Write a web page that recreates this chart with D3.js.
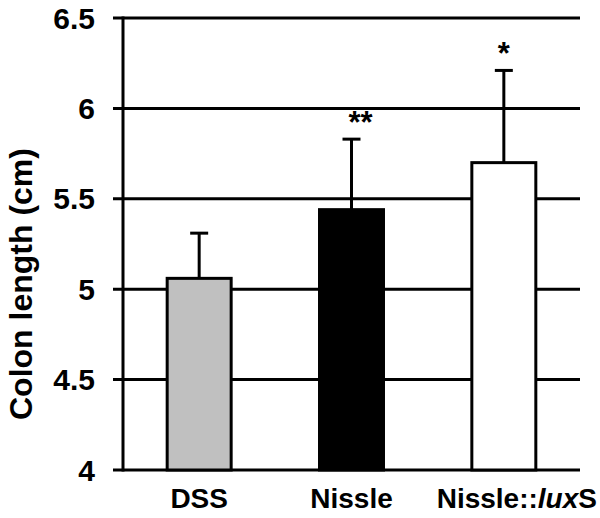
<!DOCTYPE html>
<html>
<head>
<script src="https://d3js.org/d3.v7.min.js"></script>
<style>
    body { margin: 0; background: #fff; }
    text { font-family: Arial, "Liberation Sans", sans-serif; font-weight: bold; fill: #000; }
</style>
</head>
<body>
<script>
    // values
    var groups = ["DSS", "Nissle", "Nissle::luxS"];
    var means = [5.06, 5.44, 5.70];
    var errors = [0.25, 0.39, 0.51];
    var stars = ["", "**", "*"];
    var fills = ["#c0c0c0", "#000000", "#ffffff"];
    var yTicks = [4, 4.5, 5, 5.5, 6, 6.5];

    var width = 600, height = 518;
    var plotLeft = 123, plotRight = 580, plotTop = 18, plotBottom = 470;

    var svg = d3.select("body").append("svg")
        .attr("width", width)
        .attr("height", height);

    var x = d3.scaleBand().domain(groups).range([plotLeft, plotRight]).paddingInner(0.58).paddingOuter(0.29);
    var y = d3.scaleLinear().domain([4, 6.5]).range([plotBottom, plotTop]);

    // gridlines + ticks
    svg.append("g").selectAll("line")
        .data(yTicks)
        .enter().append("line")
        .attr("x1", plotLeft - 10).attr("x2", plotRight)
        .attr("y1", function(d) { return y(d); })
        .attr("y2", function(d) { return y(d); })
        .attr("stroke", "#000").attr("stroke-width", 3);

    svg.append("line")
        .attr("x1", plotLeft).attr("x2", plotLeft)
        .attr("y1", y(6.5) - 1.5).attr("y2", y(4) + 1.5)
        .attr("stroke", "#000").attr("stroke-width", 3);

    svg.append("g").selectAll("text")
        .data(yTicks)
        .enter().append("text")
        .attr("x", 95)
        .attr("y", function(d) { return y(d); })
        .attr("dy", "0.35em")
        .attr("text-anchor", "end")
        .style("font-size", "30px")
        .text(function(d) { return d; });

    var data = groups.map(function(g, i) {
        return {name: g, mean: means[i], err: errors[i], star: stars[i], fill: fills[i]};
    });

    // error bars (drawn before bars so the bar outline covers the base)
    var eb = svg.append("g").selectAll("g").data(data).enter().append("g");
    eb.append("line")
        .attr("x1", function(d) { return x(d.name) + x.bandwidth() / 2; })
        .attr("x2", function(d) { return x(d.name) + x.bandwidth() / 2; })
        .attr("y1", function(d) { return y(d.mean); })
        .attr("y2", function(d) { return y(d.mean + d.err); })
        .attr("stroke", "#000").attr("stroke-width", 3);
    eb.append("line")
        .attr("x1", function(d) { return x(d.name) + x.bandwidth() / 2 - 9; })
        .attr("x2", function(d) { return x(d.name) + x.bandwidth() / 2 + 9; })
        .attr("y1", function(d) { return y(d.mean + d.err); })
        .attr("y2", function(d) { return y(d.mean + d.err); })
        .attr("stroke", "#000").attr("stroke-width", 3);

    svg.append("g").selectAll("rect")
        .data(data)
        .enter().append("rect")
        .attr("x", function(d) { return x(d.name); })
        .attr("y", function(d) { return y(d.mean); })
        .attr("width", x.bandwidth())
        .attr("height", function(d) { return y(4) - y(d.mean); })
        .attr("fill", function(d) { return d.fill; })
        .attr("stroke", "#000").attr("stroke-width", 3);

    // significance stars
    svg.append("g").selectAll("text")
        .data(data)
        .enter().append("text")
        .attr("x", function(d) { return x(d.name) + x.bandwidth() / 2 + (d.star.length > 1 ? 9 : 0); })
        .attr("y", function(d) { return y(d.mean + d.err) - 6; })
        .attr("text-anchor", "middle")
        .style("font-size", "31px")
        .text(function(d) { return d.star; });

    // category labels
    var xl = svg.append("g").selectAll("text")
        .data(data)
        .enter().append("text")
        .attr("x", function(d) { return x(d.name) + x.bandwidth() / 2; })
        .attr("y", 508)
        .attr("text-anchor", "middle")
        .style("font-size", "28px");
    xl.each(function(d) {
        var t = d3.select(this);
        var parts = d.name.split("::");
        if (parts.length > 1) {
            t.append("tspan").text(parts[0] + "::");
            t.append("tspan").style("font-style", "italic").text("lux");
            t.append("tspan").text("S");
            // long label sits flush with the right edge, like the original
            var w = this.getComputedTextLength();
            var cx = x(d.name) + x.bandwidth() / 2;
            if (cx + w / 2 > plotRight) t.attr("x", 597 - w / 2);
        } else {
            t.text(d.name);
        }
    });

    svg.append("text")
        .attr("transform", "translate(32,284) rotate(-90)")
        .attr("text-anchor", "middle")
        .style("font-size", "32px")
        .text("Colon length (cm)");
</script>
</body>
</html>
